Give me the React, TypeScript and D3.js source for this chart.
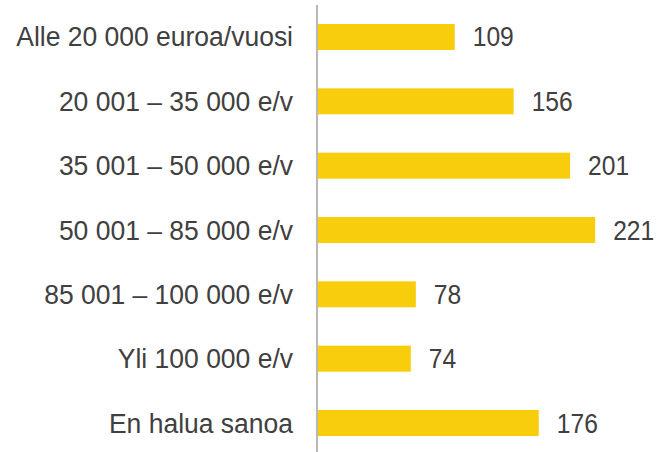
import React from "react";
import * as d3 from "d3";

const categories = [
  "Alle 20 000 euroa/vuosi",
  "20 001 – 35 000 e/v",
  "35 001 – 50 000 e/v",
  "50 001 – 85 000 e/v",
  "85 001 – 100 000 e/v",
  "Yli 100 000 e/v",
  "En halua sanoa",
];
const values = [109, 156, 201, 221, 78, 74, 176];

const W = 657;
const H = 452;

export default function App() {
  const x = d3.scaleLinear().domain([0, 240]).range([318, 619]);
  const y = d3
    .scaleBand<string>()
    .domain(categories)
    .range([4.83, 455.17])
    .paddingInner(0.596)
    .paddingOuter(0.298);
  const font = "Arial, 'Liberation Sans', sans-serif";
  const fs = 26.5;
  const sy = 1.04;
  return (
    <svg
      width={W}
      height={H}
      style={{ position: "absolute", left: 0, top: 0, background: "#fff" }}
    >
      {categories.map((c, i) => {
        const yc = (y(c) as number) + y.bandwidth() / 2;
        return (
          <g key={c}>
            <rect
              x={x(0)}
              y={y(c)}
              width={x(values[i]) - x(0)}
              height={y.bandwidth()}
              fill="#F8CD0B"
            />
            <text
              transform={`translate(293,${yc + 9.5}) scale(1,${sy})`}
              textAnchor="end"
              fontFamily={font}
              fontSize={fs}
              fill="#404040"
            >
              {c}
            </text>
            <text
              transform={`translate(${x(values[i]) + 18},${yc + 9.5}) scale(0.93,${sy})`}
              textAnchor="start"
              fontFamily={font}
              fontSize={fs}
              fill="#404040"
            >
              {values[i]}
            </text>
          </g>
        );
      })}
      <line x1={317} x2={317} y1={5} y2={H} stroke="#A0A0A0" strokeWidth={1.5} />
    </svg>
  );
}
